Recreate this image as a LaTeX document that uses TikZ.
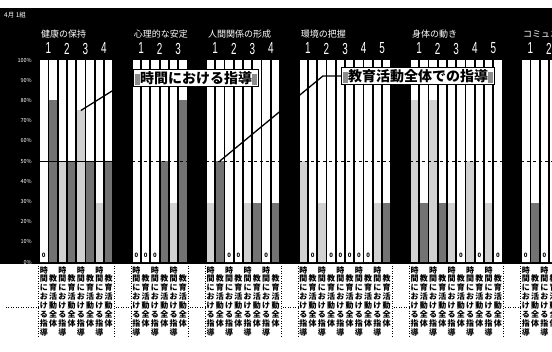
\documentclass[tikz,border=0pt]{standalone}
\usepackage{fontspec}
\setmainfont{Noto Sans CJK JP}
\newfontfamily\numfont[FakeStretch=0.62]{Liberation Sans}
\newcommand{\labA}{時\\間\\に\\お\\け\\る\\指\\導}
\newcommand{\labB}{教\\育\\活\\動\\全\\体}
\newcommand{\capsq}{\textcolor{black!45}{\rule[-1.5pt]{5pt}{11pt}}}
\begin{document}
\begin{tikzpicture}[x=1pt, y=-1pt,
  light/.style = {fill=black!18},
  dark/.style = {fill=black!55},
  ytick/.style = {white, anchor=east, inner sep=0pt, font=\fontsize{5.5}{6}\selectfont},
  grptitle/.style = {white, anchor=west, inner sep=0pt, font=\fontsize{9}{10}\selectfont},
  itemno/.style = {white, inner sep=0pt, font=\numfont\fontsize{16}{16}\selectfont},
  zerolab/.style = {inner sep=0pt, font=\bfseries\fontsize{6}{6}\selectfont},
  catlab/.style = {anchor=north, align=center, inner sep=0pt, font=\bfseries\fontsize{8}{8.9}\selectfont},
  note/.style = {draw, line width=1.2pt, fill=white, inner sep=1.5pt,
    font=\bfseries\fontsize{14}{14}\selectfont},
  sep/.style = {dotted, line width=0.5pt}]
  \path[use as bounding box] (0,0) rectangle (552,352);
  \clip (0,0) rectangle (552,352);
  \fill[white] (0,0) rectangle (552,352);
  \fill[black] (0,8) rectangle (552,264);
  \node[white, anchor=west, inner sep=0pt, font=\fontsize{6.5}{7}\selectfont] (month) at (4,15) {4月 1組};
  \foreach \p in {0,10,...,100}
    \node[ytick] at (32,262-2.02*\p) {\p\%};
  \draw[sep] (38.5,307) -- (5,307);
  \foreach \s/\nitems/\ls/\ttl/\vals [count=\g] in {
      0/4/solid/健康の保持/{0/80,50/50,75/50,29/50},
      10/3/dashed/心理的な安定/{0/0,0/50,29/80},
      18/4/dashed/人間関係の形成/{29/50,0/0,29/29,0/29},
      28/5/dashed/環境の把握/{50/0,29/0,0/0,0/0,29/29},
      40/5/dashed/身体の動き/{80/29,80/29,29/0,50/0,29/0},
      52/2/dashed/コミュニケーション/{0/29,0/0}} {
    \pgfmathsetmacro\gx{40+\s*9.27}
    \pgfmathsetmacro\gend{\gx+2*\nitems*9.27-0.27}
    \node[grptitle] at (\gx+1,34) {\ttl};
    \foreach \va/\vb [count=\k] in \vals {
      \pgfmathsetmacro\xa{\gx+(2*\k-2)*9.27}
      \pgfmathsetmacro\xb{\xa+9.27}
      \node[itemno] at (\xb-0.9,48.5) {\k};
      \foreach \x/\val/\sty/\ser in {\xa/\va/light/a, \xb/\vb/dark/b} {
        \fill[white] (\x,60) rectangle ++(7.5,202);
        \fill[\sty] (\x,262) rectangle ++(7.5,-2.02*\val);
        \coordinate (top-\g-\k\ser) at (\x+3.75,262-2.02*\val);
        \ifnum\val=0 \node[zerolab] at (\x+3.75,255) {0}; \fi
      }
      \node[catlab] at (\xa+3.75,266) {\labA};
      \node[catlab] at (\xb+3.75,274.9) {\labB};
    }
    \draw[\ls, line width=0.5pt] (\gx-1,161) -- (\gend-0.5,161);
    \draw[sep] (\gx-1.5,266) -- ++(0,72);
    \draw[sep] (\gend,266) -- ++(0,72);
    \draw[sep] (\gx-1.5,307) -- ++(-15.5,0);
  }
  \node[note] (note1) at (196,78) {\capsq 時間における指導\capsq};
  \node[note] (note2) at (418,76) {\capsq 教育活動全体での指導\capsq};
  \draw[line width=1.3pt] (note1.west) -- (top-1-3a);
  \draw[line width=1.3pt] (note2.west) -- ++(-18,0) -- (top-3-1b);
\end{tikzpicture}
\end{document}
